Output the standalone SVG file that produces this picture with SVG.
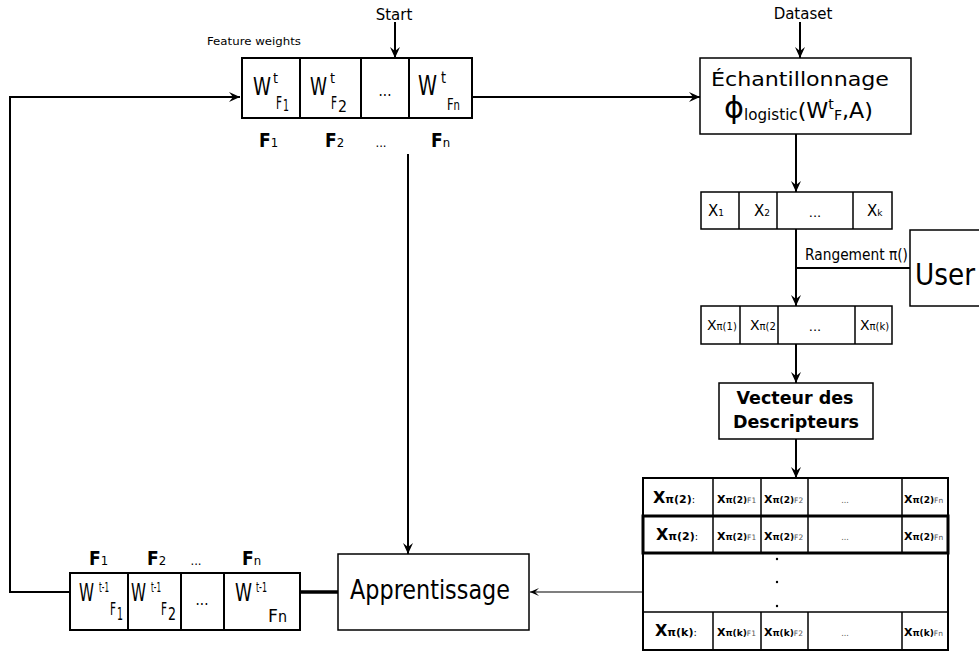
<svg xmlns="http://www.w3.org/2000/svg" width="979" height="655" viewBox="0 0 979 655">
<defs>
<marker id="ah" markerWidth="14" markerHeight="12" viewBox="-12 -6 14 12" refX="0" refY="0" orient="auto" markerUnits="userSpaceOnUse">
<path d="M0,0 L-11,-5 L-7,0 L-11,5 Z" fill="#000"/>
</marker>
<marker id="ah2" markerWidth="12" markerHeight="10" viewBox="-10 -5 12 10" refX="0" refY="0" orient="auto" markerUnits="userSpaceOnUse">
<path d="M0,0 L-9,-4 L-5,0 L-9,4 Z" fill="#000"/>
</marker>
<style>
.box{fill:#fff;stroke:#000;stroke-width:1.5}
.bx2{fill:#fff;stroke:#000;stroke-width:2}
.ln{fill:none;stroke:#000;stroke-width:2}
.c{font-family:"DejaVu Sans Condensed","DejaVu Sans",sans-serif;font-stretch:condensed}
.s{font-family:"DejaVu Sans",sans-serif}
.b{font-weight:bold}
.g{fill:#555}
</style>
</defs>

<g id="connectors">
<line class="ln" x1="395" y1="22" x2="395" y2="58" marker-end="url(#ah)"/>
<line class="ln" x1="800" y1="22" x2="800" y2="58" marker-end="url(#ah)"/>
<line class="ln" x1="472" y1="97" x2="700" y2="97" marker-end="url(#ah)"/>
<polyline class="ln" points="70,592 10,592 10,97 240,97" marker-end="url(#ah)"/>
<line class="ln" x1="796" y1="134" x2="796" y2="192" marker-end="url(#ah)"/>
<line class="ln" x1="796" y1="229" x2="796" y2="306" marker-end="url(#ah)"/>
<line class="ln" x1="796" y1="268" x2="910" y2="268"/>
<line class="ln" x1="796" y1="344" x2="796" y2="383" marker-end="url(#ah)"/>
<line class="ln" x1="796" y1="439" x2="796" y2="478" marker-end="url(#ah)"/>
<line x1="643" y1="592" x2="530" y2="592" stroke="#000" stroke-width="1.2" marker-end="url(#ah2)"/>
<line class="ln" x1="408" y1="154" x2="408" y2="554" marker-end="url(#ah)"/>
<line x1="300" y1="592" x2="338" y2="592" stroke="#000" stroke-width="3.5"/>
</g>

<g id="start-label"><text class="s" x="394" y="20" font-size="15" text-anchor="middle">Start</text></g>
<g id="dataset-label"><text class="s" x="803" y="19" font-size="15" text-anchor="middle">Dataset</text></g>

<g id="feature-weights">
<text class="s" x="207" y="45" font-size="11" textLength="94" lengthAdjust="spacingAndGlyphs">Feature weights</text>
<rect class="bx2" x="242" y="58" width="230" height="60"/>
<line class="ln" x1="300" y1="58" x2="300" y2="118"/>
<line class="ln" x1="361" y1="58" x2="361" y2="118"/>
<line class="ln" x1="409" y1="58" x2="409" y2="118"/>
<text class="c" x="253" y="95" font-size="24" textLength="18" lengthAdjust="spacingAndGlyphs">W</text>
<text class="c" x="273" y="83" font-size="14" textLength="5" lengthAdjust="spacingAndGlyphs">t</text>
<text class="c" x="276" y="109" font-size="17" textLength="6" lengthAdjust="spacingAndGlyphs">F</text>
<text class="c" x="283" y="111" font-size="16" textLength="6" lengthAdjust="spacingAndGlyphs">1</text>
<text class="c" x="310" y="95" font-size="24" textLength="17" lengthAdjust="spacingAndGlyphs">W</text>
<text class="c" x="330" y="83" font-size="14" textLength="5" lengthAdjust="spacingAndGlyphs">t</text>
<text class="c" x="331" y="109" font-size="17" textLength="6" lengthAdjust="spacingAndGlyphs">F</text>
<text class="c" x="338" y="112" font-size="16" textLength="9" lengthAdjust="spacingAndGlyphs">2</text>
<text class="c" x="385" y="96" font-size="15" text-anchor="middle">...</text>
<text class="c" x="418" y="95" font-size="27" textLength="19" lengthAdjust="spacingAndGlyphs">W</text>
<text class="c" x="441" y="83" font-size="15" textLength="5" lengthAdjust="spacingAndGlyphs">t</text>
<text class="c" x="447" y="110" font-size="16" textLength="13" lengthAdjust="spacingAndGlyphs">F<tspan font-size="14">n</tspan></text>
<text class="c" x="259" y="147"><tspan class="b" font-size="19">F</tspan><tspan font-size="13">1</tspan></text>
<text class="c" x="325" y="147"><tspan class="b" font-size="19">F</tspan><tspan font-size="13">2</tspan></text>
<text class="c" x="381" y="147" font-size="13" text-anchor="middle">...</text>
<text class="c" x="431" y="147"><tspan class="b" font-size="19">F</tspan><tspan font-size="13">n</tspan></text>
</g>

<g id="echantillonnage">
<rect class="box" x="700" y="58" width="211" height="76"/>
<text class="s" x="711" y="86" font-size="20" textLength="178" lengthAdjust="spacingAndGlyphs">Échantillonnage</text>
<text class="s" x="724" y="118" textLength="149" lengthAdjust="spacingAndGlyphs"><tspan font-size="30">ϕ</tspan><tspan font-size="15" dy="2">logistic</tspan><tspan font-size="22" dy="-2">(W</tspan><tspan font-size="14" dy="-9">t</tspan><tspan font-size="14" dy="11">F</tspan><tspan font-size="22" dy="-2">,A)</tspan></text>
</g>

<g id="x-row">
<rect class="box" x="701" y="192" width="191" height="37"/>
<line class="box" x1="739" y1="192" x2="739" y2="229"/>
<line class="box" x1="777" y1="192" x2="777" y2="229"/>
<line class="box" x1="853" y1="192" x2="853" y2="229"/>
<text class="s" x="708" y="216" font-size="15">X<tspan font-size="9">1</tspan></text>
<text class="s" x="754" y="216" font-size="15">X<tspan font-size="9">2</tspan></text>
<text class="s" x="815" y="217" font-size="13" text-anchor="middle">...</text>
<text class="s" x="867" y="216" font-size="15">X<tspan font-size="9">k</tspan></text>
</g>

<g id="rangement-label"><text class="c" x="805" y="260" font-size="15" textLength="103" lengthAdjust="spacingAndGlyphs">Rangement π()</text></g>

<g id="user">
<rect class="box" x="910" y="230" width="80" height="76"/>
<text class="c" x="915" y="285" font-size="31" textLength="60" lengthAdjust="spacingAndGlyphs">User</text>
</g>

<g id="x-ranked-row">
<rect class="box" x="701" y="306" width="191" height="38"/>
<line class="box" x1="740" y1="306" x2="740" y2="344"/>
<line class="box" x1="778" y1="306" x2="778" y2="344"/>
<line class="box" x1="855" y1="306" x2="855" y2="344"/>
<text class="s" x="707" y="330" font-size="14">X<tspan font-size="10">π(1)</tspan></text>
<text class="s" x="750" y="330" font-size="14">X<tspan font-size="10">π(2</tspan></text>
<text class="s" x="815" y="331" font-size="13" text-anchor="middle">...</text>
<text class="s" x="860" y="330" font-size="14">X<tspan font-size="10">π(k)</tspan></text>
</g>

<g id="vecteur">
<rect class="box" x="719" y="383" width="154" height="56"/>
<text class="s b" x="795" y="404" font-size="17.5" text-anchor="middle">Vecteur des</text>
<text class="s b" x="796" y="428" font-size="17.5" text-anchor="middle">Descripteurs</text>
</g>

<g id="descriptor-table">
<rect class="bx2" x="643" y="478" width="305" height="172"/>
<rect fill="none" stroke="#000" stroke-width="3" x="643" y="516" width="305" height="37"/>
<line class="box" x1="643" y1="612" x2="948" y2="612"/>
<line class="box" x1="713" y1="478" x2="713" y2="553"/>
<line class="box" x1="761" y1="478" x2="761" y2="553"/>
<line class="box" x1="808" y1="478" x2="808" y2="553"/>
<line class="box" x1="902" y1="478" x2="902" y2="553"/>
<line class="box" x1="713" y1="612" x2="713" y2="650"/>
<line class="box" x1="761" y1="612" x2="761" y2="650"/>
<line class="box" x1="808" y1="612" x2="808" y2="650"/>
<line class="box" x1="902" y1="612" x2="902" y2="650"/>
<circle cx="777" cy="559" r="1.2"/>
<circle cx="777" cy="582" r="1.2"/>
<circle cx="777" cy="606" r="1.2"/>
<text class="s b" x="653" y="503" font-size="16">X<tspan font-size="11">π(2)</tspan><tspan font-size="10" font-weight="normal">:</tspan></text>
<text class="s b" x="717" y="503" font-size="11">X<tspan font-size="9">π(2)</tspan><tspan class="g" font-size="7.5" font-weight="normal">F1</tspan></text>
<text class="s b" x="764" y="503" font-size="11">X<tspan font-size="9">π(2)</tspan><tspan class="g" font-size="7.5" font-weight="normal">F2</tspan></text>
<text class="s g" x="845" y="503" font-size="8" text-anchor="middle">...</text>
<text class="s b" x="904" y="503" font-size="11">X<tspan font-size="9">π(2)</tspan><tspan class="g" font-size="7.5" font-weight="normal">Fn</tspan></text>
<text class="s b" x="656" y="540" font-size="16">X<tspan font-size="11">π(2)</tspan><tspan font-size="10" font-weight="normal">:</tspan></text>
<text class="s b" x="717" y="540" font-size="11">X<tspan font-size="9">π(2)</tspan><tspan class="g" font-size="7.5" font-weight="normal">F1</tspan></text>
<text class="s b" x="764" y="540" font-size="11">X<tspan font-size="9">π(2)</tspan><tspan class="g" font-size="7.5" font-weight="normal">F2</tspan></text>
<text class="s g" x="845" y="540" font-size="8" text-anchor="middle">...</text>
<text class="s b" x="904" y="540" font-size="11">X<tspan font-size="9">π(2)</tspan><tspan class="g" font-size="7.5" font-weight="normal">Fn</tspan></text>
<text class="s b" x="655" y="636" font-size="16">X<tspan font-size="11">π(k)</tspan><tspan font-size="10" font-weight="normal">:</tspan></text>
<text class="s b" x="717" y="636" font-size="11">X<tspan font-size="9">π(k)</tspan><tspan class="g" font-size="7.5" font-weight="normal">F1</tspan></text>
<text class="s b" x="764" y="636" font-size="11">X<tspan font-size="9">π(k)</tspan><tspan class="g" font-size="7.5" font-weight="normal">F2</tspan></text>
<text class="s g" x="845" y="636" font-size="8" text-anchor="middle">...</text>
<text class="s b" x="904" y="636" font-size="11">X<tspan font-size="9">π(k)</tspan><tspan class="g" font-size="7.5" font-weight="normal">Fn</tspan></text>
</g>

<g id="apprentissage">
<rect class="box" x="338" y="554" width="191" height="76"/>
<text class="c" x="350" y="599" font-size="27" textLength="160" lengthAdjust="spacingAndGlyphs">Apprentissage</text>
</g>

<g id="previous-weights">
<rect class="bx2" x="70" y="573" width="230" height="57"/>
<line class="ln" x1="128" y1="573" x2="128" y2="630"/>
<line class="ln" x1="181" y1="573" x2="181" y2="630"/>
<line class="ln" x1="224" y1="573" x2="224" y2="630"/>
<text class="c" x="79" y="601" font-size="24" textLength="15" lengthAdjust="spacingAndGlyphs">W</text>
<text class="c" x="99" y="592" font-size="14" textLength="10" lengthAdjust="spacingAndGlyphs">t-1</text>
<text class="c" x="110" y="615" font-size="17" textLength="6" lengthAdjust="spacingAndGlyphs">F</text>
<text class="c" x="117" y="620" font-size="17" textLength="6" lengthAdjust="spacingAndGlyphs">1</text>
<text class="c" x="131" y="601" font-size="24" textLength="15" lengthAdjust="spacingAndGlyphs">W</text>
<text class="c" x="151" y="592" font-size="14" textLength="10" lengthAdjust="spacingAndGlyphs">t-1</text>
<text class="c" x="161" y="615" font-size="17" textLength="6" lengthAdjust="spacingAndGlyphs">F</text>
<text class="c" x="168" y="620" font-size="17" textLength="8" lengthAdjust="spacingAndGlyphs">2</text>
<text class="c" x="202" y="605" font-size="15" text-anchor="middle">...</text>
<text class="c" x="235" y="601" font-size="25" textLength="17" lengthAdjust="spacingAndGlyphs">W</text>
<text class="c" x="256" y="592" font-size="14" textLength="11" lengthAdjust="spacingAndGlyphs">t-1</text>
<text class="c" x="268" y="622" font-size="18" textLength="19" lengthAdjust="spacingAndGlyphs">F<tspan font-size="15">n</tspan></text>
<text class="c" x="89" y="565"><tspan class="b" font-size="19">F</tspan><tspan font-size="13">1</tspan></text>
<text class="c" x="147" y="565"><tspan class="b" font-size="19">F</tspan><tspan font-size="13">2</tspan></text>
<text class="c" x="196" y="565" font-size="13" text-anchor="middle">...</text>
<text class="c" x="242" y="565"><tspan class="b" font-size="19">F</tspan><tspan font-size="13">n</tspan></text>
</g>
</svg>
